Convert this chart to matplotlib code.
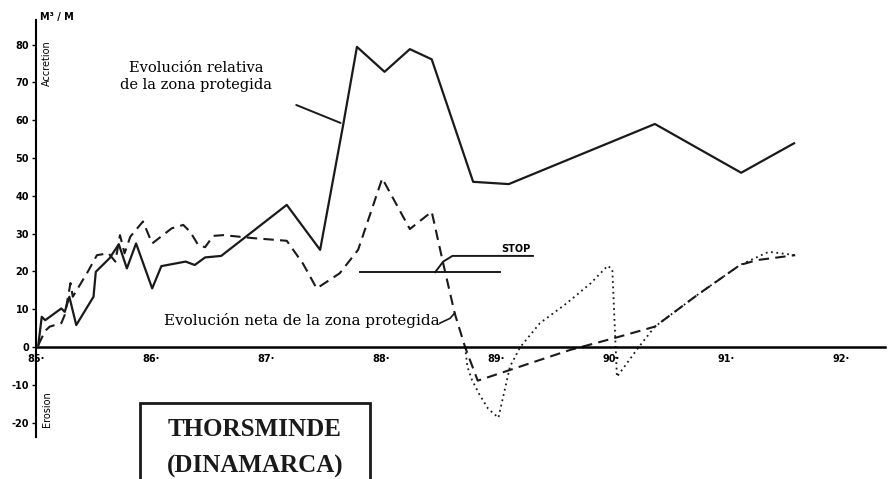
import matplotlib.pyplot as plt
from matplotlib.patches import Rectangle

# evolucion relativa de la zona protegida (solid)
rel_x = [85.02, 85.05, 85.08, 85.22, 85.25, 85.29, 85.35, 85.50, 85.52, 85.64,
         85.72, 85.79, 85.87, 86.01, 86.09, 86.30, 86.38, 86.47, 86.61, 87.18,
         87.47, 87.67, 87.79, 88.03, 88.25, 88.44, 88.80, 89.11, 90.38, 91.13,
         91.59]
rel_y = [0.5, 8.0, 7.1, 10.2, 9.3, 13.3, 5.8, 13.3, 19.9, 23.5,
         27.2, 20.8, 27.4, 15.5, 21.4, 22.6, 21.7, 23.7, 24.1, 37.6,
         25.7, 58.7, 79.4, 72.8, 78.8, 76.1, 43.7, 43.1, 59.0, 46.1,
         53.9]

# evolucion neta de la zona protegida (dashed)
neta_x = [85.02, 85.08, 85.12, 85.22, 85.25, 85.30, 85.32, 85.45, 85.53, 85.63,
          85.69, 85.73, 85.77, 85.82, 85.93, 86.01, 86.18, 86.28, 86.34, 86.41,
          86.47, 86.54, 86.63, 86.89, 87.18, 87.32, 87.44, 87.64, 87.80, 88.01,
          88.25, 88.44, 88.54, 88.64, 88.73, 88.84, 89.64, 90.02, 90.38, 90.75,
          91.12, 91.27, 91.60]
neta_y = [0.5, 4.3, 5.4, 6.3, 8.5, 16.9, 13.3, 19.9, 24.3, 24.8,
          22.6, 29.6, 24.8, 29.2, 33.2, 27.4, 31.4, 32.3, 30.5, 27.0,
          26.4, 29.4, 29.6, 28.8, 28.1, 22.1, 15.5, 19.5, 25.7, 44.6,
          31.2, 35.8, 22.1, 8.9, 0.0, -8.9, -0.8, 2.3, 5.4, 13.8,
          21.7, 23.0, 24.3]

# dotted branch
dot_x = [88.73, 88.75, 88.79, 88.85, 88.93, 89.02, 89.12, 89.21, 89.38, 89.61,
         89.82, 89.97, 90.01, 90.05, 90.24, 90.38, 90.75, 91.12, 91.37, 91.60]
dot_y = [0.0, -5.2, -8.7, -12.3, -16.3, -18.7, -5.2, 0.0, 6.3, 11.5,
         16.8, 21.5, 20.5, -7.9, 0.0, 5.4, 13.8, 21.7, 25.2, 24.3]

year_ticks = [85, 86, 87, 88, 89, 90, 91, 92]
year_labels = ["85·", "86·", "87·", "88·", "89·", "90·", "91·", "92·"]
val_ticks = [-20, -10, 0, 10, 20, 30, 40, 50, 60, 70, 80]
val_labels = ["-20", "-10", "0", "10", "20", "30", "40", "50", "60", "70", "80"]

fig = plt.figure(figsize=(8.93, 4.79), dpi=100)
ax = fig.add_axes([0.0403, 0.0877, 0.9507, 0.8705])
ax.set_xlim(85, 92.38)
ax.set_ylim(-23.8, 86.5)

ax.plot(rel_x, rel_y, color='#1a1a1a', lw=1.6)
ax.plot(neta_x, neta_y, color='#1a1a1a', lw=1.5, dashes=(5, 3))
ax.plot(dot_x, dot_y, color='#1a1a1a', lw=1.3, dashes=(1, 2))

for s in ['top', 'right']:
    ax.spines[s].set_visible(False)
ax.spines['bottom'].set_position(('data', 0))
ax.spines['bottom'].set_linewidth(1.8)
ax.spines['left'].set_linewidth(1.5)

ax.set_xticks(year_ticks)
ax.set_xticklabels(year_labels, fontsize=7, fontweight='bold')
ax.set_yticks(val_ticks)
ax.set_yticklabels(val_labels, fontsize=7, fontweight='bold')
ax.tick_params(axis='x', length=0, pad=5)
ax.tick_params(axis='y', length=3, width=1, direction='out', pad=2)

# axis texts
fig.text(0.045, 0.965, "M³ / M", fontsize=7, fontweight='bold', va='center')
ax.text(85.05, 75, "Accretion", rotation=90, fontsize=7, ha='left', va='center')
ax.text(85.05, -16.5, "Erosion", rotation=90, fontsize=7, ha='left', va='center')

serif = 'DejaVu Serif'
ax.text(86.39, 71.5, "Evolución relativa\nde la zona protegida", family=serif,
        fontsize=10.5, ha='center', va='center', linespacing=1.3)
ax.annotate('', xy=(87.67, 59.0), xytext=(87.24, 64.3),
            arrowprops=dict(arrowstyle='-', lw=1.4, color='#1a1a1a'))

ax.text(87.31, 6.9, "Evolución neta de la zona protegida", family=serif,
        fontsize=10.9, ha='center', va='center')
ax.plot([88.51, 88.60, 88.64], [6.3, 7.6, 9.0], color='#1a1a1a', lw=1.2)

# STOP marker
ax.plot([87.82, 89.03], [19.8, 19.8], color='#1a1a1a', lw=1.4)
ax.plot([88.47, 88.54, 88.62, 89.32], [19.8, 22.6, 24.1, 24.1], color='#1a1a1a', lw=1.4)
ax.text(89.17, 24.6, "STOP", fontsize=7, fontweight='bold', ha='center', va='bottom')

# location box
fig.patches.append(Rectangle((140 / 893, -0.05), 230 / 893, 1 - 403 / 479 + 0.05,
                             transform=fig.transFigure, fill=False, lw=2,
                             edgecolor='#1a1a1a'))
fig.text(255 / 893, 1 - 430 / 479, "THORSMINDE", family='Liberation Serif',
         fontsize=18, fontweight='bold', ha='center', va='center', color='#1a1a1a')
fig.text(255 / 893, 1 - 466 / 479, "(DINAMARCA)", family='Liberation Serif',
         fontsize=18, fontweight='bold', ha='center', va='center', color='#1a1a1a')

fig.savefig('out.png', dpi=100)
